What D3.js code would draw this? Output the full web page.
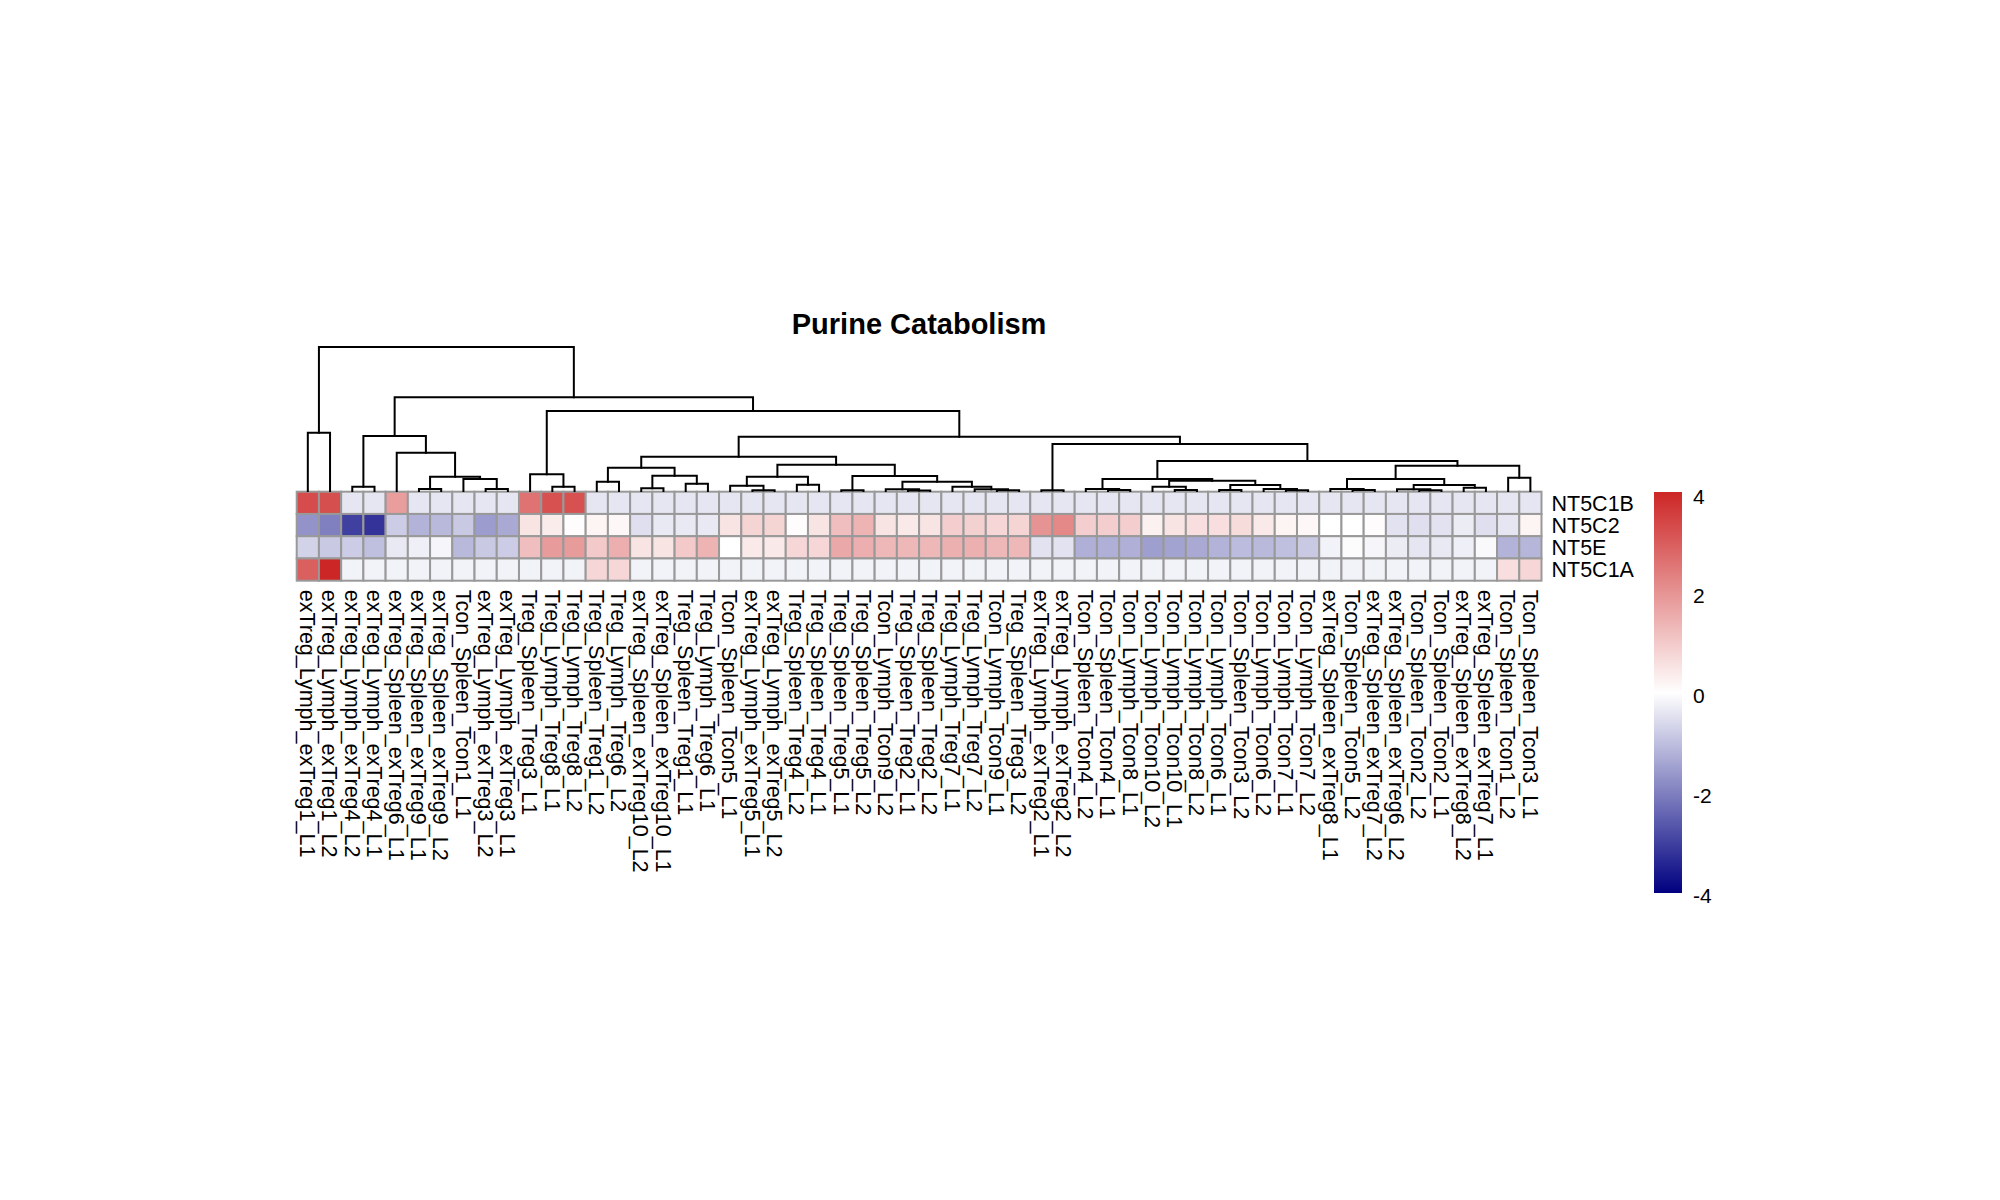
<!DOCTYPE html>
<html>
<head>
<meta charset="utf-8">
<script src="https://cdn.jsdelivr.net/npm/d3@7"></script>
<style>
  html, body { margin: 0; padding: 0; background: #ffffff; }
  svg { display: block; font-family: Arial, "Liberation Sans", Helvetica, sans-serif; }
</style>
</head>
<body>
<svg id="chart" width="2000" height="1200"></svg>
<script>
// ---------------- DATA ----------------
const title = "Purine Catabolism";

const colLabels = [
  "exTreg_Lymph_exTreg1_L1","exTreg_Lymph_exTreg1_L2","exTreg_Lymph_exTreg4_L2","exTreg_Lymph_exTreg4_L1",
  "exTreg_Spleen_exTreg6_L1","exTreg_Spleen_exTreg9_L1","exTreg_Spleen_exTreg9_L2","Tcon_Spleen_Tcon1_L1",
  "exTreg_Lymph_exTreg3_L2","exTreg_Lymph_exTreg3_L1","Treg_Spleen_Treg3_L1","Treg_Lymph_Treg8_L1",
  "Treg_Lymph_Treg8_L2","Treg_Spleen_Treg1_L2","Treg_Lymph_Treg6_L2","exTreg_Spleen_exTreg10_L2",
  "exTreg_Spleen_exTreg10_L1","Treg_Spleen_Treg1_L1","Treg_Lymph_Treg6_L1","Tcon_Spleen_Tcon5_L1",
  "exTreg_Lymph_exTreg5_L1","exTreg_Lymph_exTreg5_L2","Treg_Spleen_Treg4_L2","Treg_Spleen_Treg4_L1",
  "Treg_Spleen_Treg5_L1","Treg_Spleen_Treg5_L2","Tcon_Lymph_Tcon9_L2","Treg_Spleen_Treg2_L1",
  "Treg_Spleen_Treg2_L2","Treg_Lymph_Treg7_L1","Treg_Lymph_Treg7_L2","Tcon_Lymph_Tcon9_L1",
  "Treg_Spleen_Treg3_L2","exTreg_Lymph_exTreg2_L1","exTreg_Lymph_exTreg2_L2","Tcon_Spleen_Tcon4_L2",
  "Tcon_Spleen_Tcon4_L1","Tcon_Lymph_Tcon8_L1","Tcon_Lymph_Tcon10_L2","Tcon_Lymph_Tcon10_L1",
  "Tcon_Lymph_Tcon8_L2","Tcon_Lymph_Tcon6_L1","Tcon_Spleen_Tcon3_L2","Tcon_Lymph_Tcon6_L2",
  "Tcon_Lymph_Tcon7_L1","Tcon_Lymph_Tcon7_L2","exTreg_Spleen_exTreg8_L1","Tcon_Spleen_Tcon5_L2",
  "exTreg_Spleen_exTreg7_L2","exTreg_Spleen_exTreg6_L2","Tcon_Spleen_Tcon2_L2","Tcon_Spleen_Tcon2_L1",
  "exTreg_Spleen_exTreg8_L2","exTreg_Spleen_exTreg7_L1","Tcon_Spleen_Tcon1_L2","Tcon_Spleen_Tcon3_L1"
];

const rowLabels = ["NT5C1B", "NT5C2", "NT5E", "NT5C1A"];

const NT5C1B = [
  3.3, 3.25, -0.4, -0.4, 1.8, -0.4, -0.4, -0.4, -0.4, -0.4,
  2.6, 3.2, 3.2, -0.4, -0.4, -0.4, -0.4, -0.4, -0.4, -0.4,
  -0.4, -0.4, -0.4, -0.4, -0.4, -0.4, -0.4, -0.4, -0.4, -0.4,
  -0.4, -0.4, -0.4, -0.4, -0.4, -0.4, -0.4, -0.4, -0.4, -0.4,
  -0.4, -0.4, -0.4, -0.4, -0.4, -0.4, -0.4, -0.4, -0.4, -0.4,
  -0.4, -0.4, -0.4, -0.4, -0.4, -0.4
];
const NT5C2 = [
  -1.7, -2.0, -3.0, -3.2, -0.8, -1.2, -1.1, -0.85, -1.55, -1.35,
  0.5, 0.35, 0.05, 0.2, 0.15, -0.5, -0.35, -0.35, -0.35, 0.5,
  0.8, 0.8, 0.05, 0.5, 1.2, 1.4, 0.5, 0.4, 0.5, 0.9,
  0.85, 0.75, 0.8, 2.0, 2.2, 0.9, 0.9, 0.9, 0.25, 0.5,
  0.6, 0.6, 0.65, 0.4, 0.2, 0.15, 0.0, 0.0, 0.05, -0.45,
  -0.5, -0.45, -0.3, -0.5, -0.4, 0.2
];
const NT5E = [
  -0.7, -0.85, -0.8, -1.0, -0.35, -0.25, -0.15, -1.1, -0.85, -0.8,
  1.2, 1.85, 1.85, 1.0, 1.5, 0.5, 0.5, 1.0, 1.4, 0.0,
  0.4, 0.4, 0.75, 0.75, 1.6, 1.5, 1.3, 1.3, 1.3, 1.45,
  1.45, 1.3, 1.3, -0.45, -0.45, -1.25, -1.25, -1.25, -1.5, -1.45,
  -1.35, -1.2, -1.05, -1.1, -1.0, -0.85, -0.2, -0.05, -0.15, -0.3,
  -0.4, -0.35, -0.25, -0.1, -1.2, -1.15
];
const NT5C1A = [
  2.95, 4.0, -0.2, -0.2, -0.2, -0.2, -0.2, -0.2, -0.2, -0.2,
  -0.2, -0.2, -0.2, 0.75, 0.75, -0.2, -0.2, -0.2, -0.2, -0.2,
  -0.2, -0.2, -0.2, -0.2, -0.2, -0.2, -0.2, -0.2, -0.2, -0.2,
  -0.2, -0.2, -0.2, -0.2, -0.2, -0.2, -0.2, -0.2, -0.2, -0.2,
  -0.2, -0.2, -0.2, -0.2, -0.2, -0.2, -0.2, -0.2, -0.2, -0.2,
  -0.2, -0.2, -0.2, -0.2, 0.6, 0.75
];
const rowValues = [NT5C1B, NT5C2, NT5E, NT5C1A];

// Column dendrogram as an hclust-like merge table
// negative = leaf (1-based column position), positive = earlier merge row (1-based)
const mergeLeft  = [-12,-11, -1, -3, -6, -9, -8,  5, -5,  4,-14,-16,-18, 12, 11,-21,-20,-23, 17,-25,-28,-27,-32,-31,-30, 22, 20, 19, 15,-34,-37,-36,-40,-39,-42,-45,-44, 35, 34, 32,-48,-47,-51,-50,-53, 44, 42,-55, 47, 40, 30, 29,  2, 10,  3];
const mergeRight = [-13,  1, -2, -4, -7,-10,  6,  7,  8,  9,-15,-17,-19, 13, 14,-22, 16,-24, 18,-26,-29, 21,-33, 23, 24, 25, 26, 27, 28,-35,-38, 31,-41, 33,-43,-46, 36, 37, 38, 39,-49, 41,-52, 43,-54, 45, 46,-56, 48, 49, 50, 51, 52, 53, 54];
const mergeHeight= [4.3,16.7,58.3,4.3,2, 2, 12, 14.3,38.3,55, 9.3,2.7,7.3,15.3,23.3,0.7,5.3,6.3,14.3,0.7,0.5,1.7,0.7,1.7,4.3,9.3,15,26.3,34.3,0.7,1, 2, 1, 4.3,1, 0.7,2, 6, 10.3,12, 1, 2, 0.7,1.7,3.3,6, 12, 13.3,25.3,30, 47, 54.3,80, 93.7,144];

const legendTicks = [4, 2, 0, -2, -4];
const colorDomain = [-4, 0, 4];
const colorRange = ["#000080", "#ffffff", "#CD2626"];

// ---------------- DRAW ----------------
const svg = d3.select("#chart");
svg.append("rect").attr("width", 2000).attr("height", 1200).attr("fill", "#ffffff");

const x = d3.scaleBand().domain(colLabels).range([296.7, 1541.5]).padding(0);
const y = d3.scaleBand().domain(rowLabels).range([491.7, 580.7]).padding(0);
const color = d3.scaleLinear().domain(colorDomain).range(colorRange).interpolate(d3.interpolateRgb).clamp(true);
const hScale = d3.scaleLinear().domain([0, d3.max(mergeHeight)]).range([491, 347]);

// Title
svg.append("text")
  .attr("x", (x.range()[0] + x.range()[1]) / 2)
  .attr("y", 334)
  .attr("text-anchor", "middle")
  .attr("font-size", 29)
  .attr("font-weight", "bold")
  .attr("fill", "#000")
  .text(title);

// Heatmap cells
const cells = [];
rowLabels.forEach((r, ri) => {
  colLabels.forEach((c, ci) => cells.push({ r, c, v: rowValues[ri][ci] }));
});
svg.append("g").selectAll("rect").data(cells).join("rect")
  .attr("x", d => x(d.c))
  .attr("y", d => y(d.r))
  .attr("width", x.bandwidth())
  .attr("height", y.bandwidth())
  .attr("fill", d => color(d.v))
  .attr("stroke", "#999999")
  .attr("stroke-width", 2);

// Dendrogram
const nodeX = [], nodeH = [];
function posOf(id) {
  if (id < 0) return { x: x(colLabels[-id - 1]) + x.bandwidth() / 2, h: 0 };
  return { x: nodeX[id - 1], h: nodeH[id - 1] };
}
const dPaths = [];
mergeLeft.forEach((l, i) => {
  const a = posOf(l), b = posOf(mergeRight[i]);
  const h = mergeHeight[i];
  nodeX[i] = (a.x + b.x) / 2;
  nodeH[i] = h;
  dPaths.push(`M${a.x},${hScale(a.h)}V${hScale(h)}H${b.x}V${hScale(b.h)}`);
});
svg.append("g").selectAll("path").data(dPaths).join("path")
  .attr("d", d => d)
  .attr("fill", "none")
  .attr("stroke", "#000")
  .attr("stroke-width", 2)
  .attr("stroke-linecap", "square");

// Row labels
svg.append("g").selectAll("text").data(rowLabels).join("text")
  .attr("x", x.range()[1] + 10)
  .attr("y", d => y(d) + y.bandwidth() / 2)
  .attr("dy", "0.36em")
  .attr("font-size", 21.5)
  .attr("fill", "#000")
  .text(d => d);

// Column labels (rotated)
svg.append("g").selectAll("text").data(colLabels).join("text")
  .attr("transform", d => `translate(${x(d) + x.bandwidth() / 2},${y.range()[1] + 9}) rotate(90)`)
  .attr("dy", "0.36em")
  .attr("font-size", 21.5)
  .attr("fill", "#000")
  .text(d => d);

// Legend
const legY = d3.scaleLinear().domain([-4, 4]).range([895, 496]);
const defs = svg.append("defs");
const grad = defs.append("linearGradient").attr("id", "legGrad")
  .attr("x1", 0).attr("y1", 1).attr("x2", 0).attr("y2", 0);
d3.range(0, 1.0001, 0.05).forEach(t => {
  const v = -4 + 8 * t;
  grad.append("stop").attr("offset", t).attr("stop-color", color(v));
});
svg.append("rect")
  .attr("x", 1654).attr("y", 492)
  .attr("width", 28).attr("height", 401)
  .attr("fill", "url(#legGrad)");
svg.append("g").selectAll("text").data(legendTicks).join("text")
  .attr("x", 1693)
  .attr("y", d => legY(d))
  .attr("dy", "0.36em")
  .attr("font-size", 21)
  .attr("fill", "#000")
  .text(d => d);
</script>
</body>
</html>
